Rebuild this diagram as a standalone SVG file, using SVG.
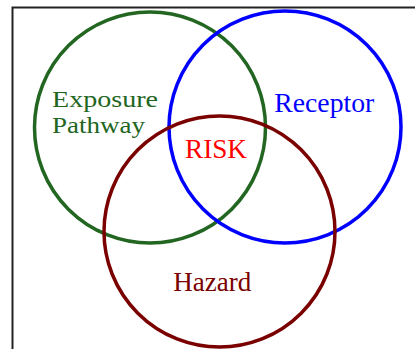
<svg xmlns="http://www.w3.org/2000/svg" width="415" height="349" viewBox="0 0 415 349">
<style>
.c{fill:none;stroke-width:3.5}
.t{font-family:"Liberation Serif","Times New Roman",serif;font-size:27px}
.s{font-size:24px}
</style>
<rect width="415" height="349" fill="#fff"/>
<path d="M12.5,349 V7.5 H415" fill="none" stroke="#222" stroke-width="2"/>
<g id="exposure-pathway">
<circle class="c" cx="150" cy="127.5" r="115.5" stroke="#226622"/>
<text class="t s" fill="#226622"><tspan x="52" y="106.7" textLength="106" lengthAdjust="spacingAndGlyphs">Exposure</tspan><tspan x="52" y="133.3" textLength="93" lengthAdjust="spacingAndGlyphs">Pathway</tspan></text>
</g>
<g id="receptor">
<circle class="c" cx="285" cy="127" r="116" stroke="#0000ff"/>
<text class="t" fill="#0000ff" x="274.3" y="111.7" textLength="100" lengthAdjust="spacingAndGlyphs">Receptor</text>
</g>
<g id="hazard">
<circle class="c" cx="219.5" cy="231.5" r="115.5" stroke="#7a0000"/>
<text class="t" fill="#7a0000" x="173.3" y="290.7" textLength="78" lengthAdjust="spacingAndGlyphs">Hazard</text>
</g>
<g id="risk">
<text class="t" fill="#ff0000" x="185" y="157.7" textLength="62" lengthAdjust="spacingAndGlyphs">RISK</text>
</g>
<g id="connectors"/>
</svg>
